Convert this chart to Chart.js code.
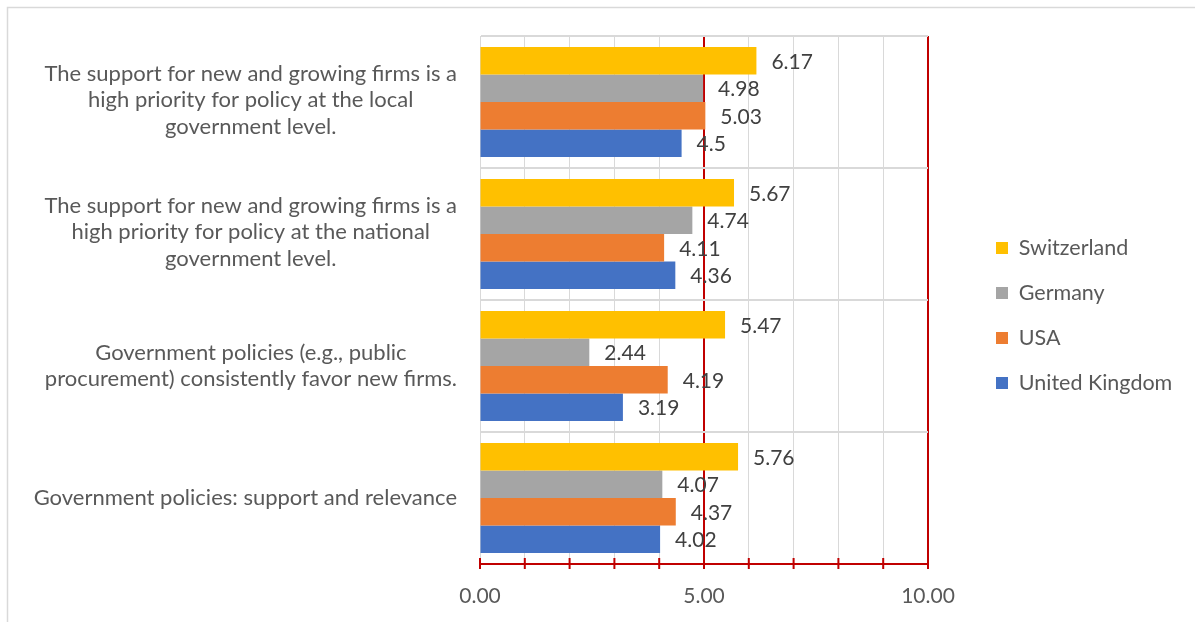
<!DOCTYPE html>
<html>
<head>
<meta charset="utf-8">
<script src="https://cdn.jsdelivr.net/npm/chart.js@4/dist/chart.umd.min.js"></script>
<style>
  html, body { margin: 0; padding: 0; background: #ffffff; }
  canvas { display: block; }
</style>
</head>
<body>
<canvas id="c" width="1195" height="622"></canvas>
<script>
// ---- data ----
const categories = [
  ["The support for new and growing firms is a", "high priority for policy at the local", "government level."],
  ["The support for new and growing firms is a", "high priority for policy at the national", "government level."],
  ["Government policies (e.g., public", "procurement) consistently favor new firms."],
  ["Government policies: support and relevance"]
];
const seriesNames = ["Switzerland", "Germany", "USA", "United Kingdom"];
const switzerland = [6.17, 5.67, 5.47, 5.76];
const germany     = [4.98, 4.74, 2.44, 4.07];
const usa         = [5.03, 4.11, 4.19, 4.37];
const uk          = [4.50, 4.36, 3.19, 4.02];
const valueLabels = {
  Switzerland: ["6.17", "5.67", "5.47", "5.76"],
  Germany: ["4.98", "4.74", "2.44", "4.07"],
  USA: ["5.03", "4.11", "4.19", "4.37"],
  "United Kingdom": ["4.5", "4.36", "3.19", "4.02"]
};
const xTickLabels = { 0: "0.00", 5: "5.00", 10: "10.00" };
const seriesColors = ["#FFC000", "#A5A5A5", "#ED7D31", "#4472C4"];

const FONT = "Lato, 'Liberation Sans', sans-serif";
const RED = "#C00000";
const GRID = "#D9D9D9";

const frame = {
  id: "frame",
  beforeLayout(chart) {
    const lg = chart.legend;
    if (lg && !lg._fixedFit) {
      const orig = lg.fit.bind(lg);
      lg.fit = function () { orig(); this.width = 267; };
      lg._fixedFit = true;
    }
  },
  beforeDraw(chart) {
    const ctx = chart.ctx;
    ctx.save();
    ctx.strokeStyle = GRID;
    ctx.lineWidth = 1.5;
    ctx.beginPath();
    ctx.moveTo(7.5, chart.height);
    ctx.lineTo(7.5, 7.5);
    ctx.lineTo(chart.width, 7.5);
    ctx.stroke();
    ctx.restore();
  },
  afterLayout(chart) {
    const lg = chart.legend;
    if (!lg) return;
    lg.left = 972.5; lg.right = 1195; lg.width = 222.5;
    lg.top = 36; lg.bottom = 595; lg.height = 559;
  }
};

const yLabels = {
  id: "yLabels",
  afterDraw(chart) {
    const ctx = chart.ctx;
    const ys = chart.scales.y;
    ctx.save();
    ctx.font = "22px " + FONT;
    ctx.fillStyle = "#595959";
    ctx.textAlign = "center";
    ctx.textBaseline = "middle";
    const lh = 26.5;
    const xr = ys.right - 23;
    categories.forEach((lines, i) => {
      const yc = ys.getPixelForTick(i) - (lines.length > 2 ? 2 : 0);
      let bw = 0;
      lines.forEach(l => { bw = Math.max(bw, ctx.measureText(l).width); });
      const cx = xr - bw / 2;
      const y0 = yc - (lines.length - 1) * lh / 2;
      lines.forEach((l, k) => ctx.fillText(l, cx, y0 + k * lh));
    });
    ctx.restore();
  }
};

const axisTicks = {
  id: "axisTicks",
  afterDraw(chart) {
    const ctx = chart.ctx;
    const xs = chart.scales.x;
    const ay = chart.chartArea.bottom;
    ctx.save();
    ctx.strokeStyle = RED;
    ctx.lineWidth = 2;
    ctx.beginPath();
    ctx.moveTo(xs.getPixelForValue(0), ay);
    ctx.lineTo(xs.getPixelForValue(10), ay);
    xs.ticks.forEach(t => {
      const x = xs.getPixelForValue(t.value);
      ctx.moveTo(x, ay - 6);
      ctx.lineTo(x, ay + 5);
    });
    ctx.stroke();
    ctx.restore();
  }
};

const barLabels = {
  id: "barLabels",
  afterDatasetsDraw(chart) {
    const ctx = chart.ctx;
    ctx.save();
    ctx.font = "21px " + FONT;
    ctx.fillStyle = "#404040";
    ctx.textAlign = "left";
    ctx.textBaseline = "middle";
    chart.data.datasets.forEach((ds, di) => {
      const meta = chart.getDatasetMeta(di);
      meta.data.forEach((el, i) => {
        ctx.fillText(valueLabels[ds.label][i], el.x + 15, el.y + 1);
      });
    });
    ctx.restore();
  }
};

const datasetsValues = [switzerland, germany, usa, uk];

new Chart(document.getElementById("c"), {
  type: "bar",
  data: {
    labels: categories,
    datasets: seriesNames.map((n, i) => ({
      label: n,
      data: datasetsValues[i],
      backgroundColor: seriesColors[i],
      borderWidth: 0,
      categoryPercentage: 0.833,
      barPercentage: 1.0
    }))
  },
  options: {
    indexAxis: "y",
    responsive: false,
    animation: false,
    devicePixelRatio: 1,
    layout: { padding: { top: 36, left: 0, right: 0, bottom: 0 } },
    scales: {
      x: {
        type: "linear",
        min: 0,
        max: 10,
        afterFit(s) { s.height = 58; },
        ticks: {
          stepSize: 1,
          autoSkip: false,
          maxRotation: 0,
          padding: 20,
          color: "#595959",
          font: { family: FONT, size: 21 },
          callback: v => (xTickLabels[v] !== undefined ? xTickLabels[v] : "")
        },
        grid: {
          drawTicks: false,
          color: c => (c.tick && (c.tick.value === 5 || c.tick.value === 10) ? RED : GRID),
          lineWidth: c => (c.tick && (c.tick.value === 5 || c.tick.value === 10) ? 2 : 1)
        },
        border: { display: true, color: RED, width: 2 }
      },
      y: {
        type: "category",
        afterFit(s) { s.width = 480; },
        ticks: { display: false },
        grid: { drawTicks: false, color: GRID, lineWidth: 2, offset: true },
        border: { display: true, color: GRID, width: 1 }
      }
    },
    plugins: {
      legend: {
        position: "right",
        align: "center",
        fullSize: false,
        labels: {
          boxWidth: 12,
          boxHeight: 12,
          padding: 23.5,
          color: "#595959",
          font: { family: FONT, size: 21.5 }
        }
      },
      tooltip: { enabled: false }
    }
  },
  plugins: [frame, yLabels, axisTicks, barLabels]
});
</script>
</body>
</html>
